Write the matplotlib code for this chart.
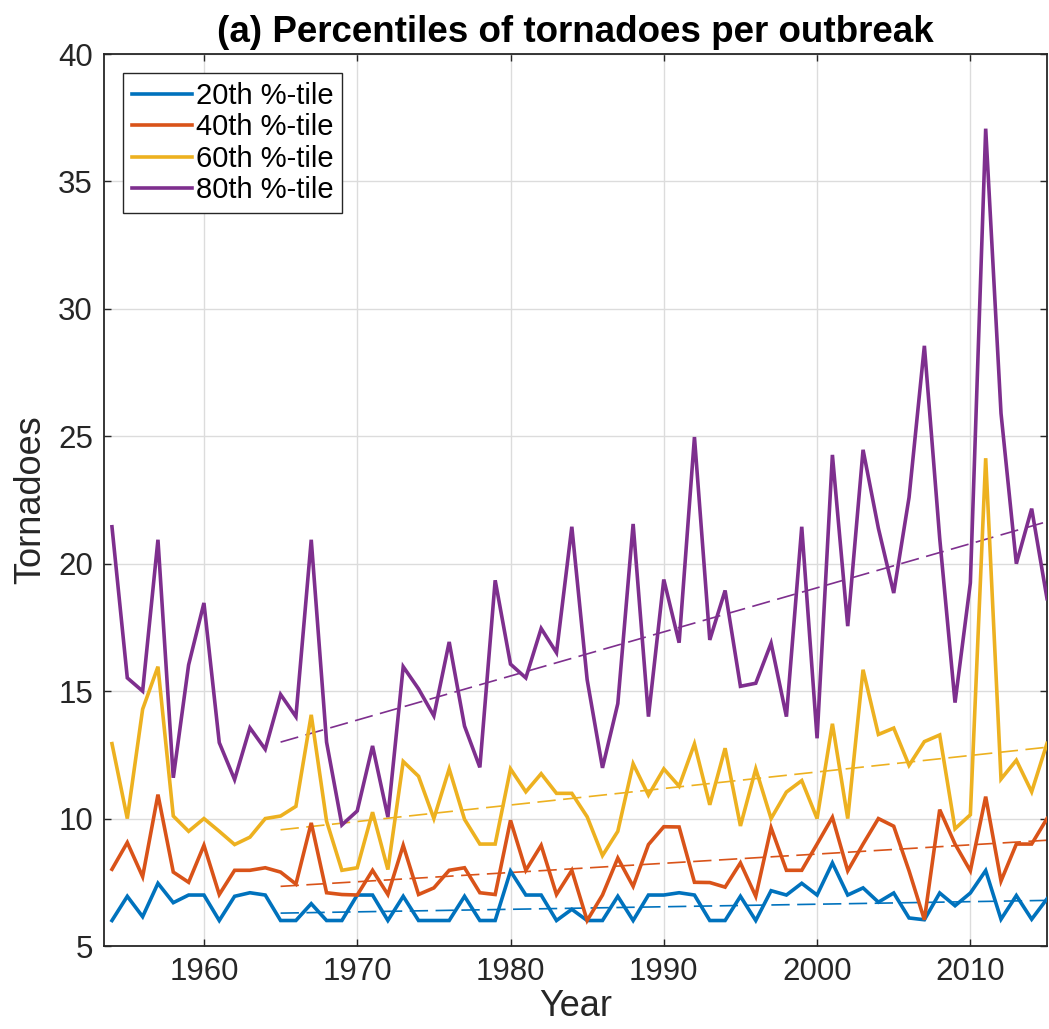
import numpy as np
import matplotlib
matplotlib.use("Agg")
import matplotlib.pyplot as plt

plt.rcParams['font.family'] = ['Liberation Sans', 'DejaVu Sans']

years = list(range(1954, 2016))

p20 = [6.0, 6.95, 6.15, 7.46, 6.7, 7.0,
       7.0, 6.0, 6.95, 7.09, 7.0, 6.0, 6.0, 6.66, 6.0, 6.0,
       7.0, 7.0, 6.0, 6.95, 6.0, 6.0, 6.0, 6.95, 6.0, 6.0,
       7.94, 7.0, 7.0, 6.0, 6.44, 6.0, 6.0, 6.95, 6.0, 7.0,
       7.0, 7.09, 7.0, 6.0, 6.0, 6.95, 6.0, 7.17, 7.0, 7.46,
       7.0, 8.26, 7.0, 7.28, 6.72, 7.08, 6.1, 6.03, 7.08, 6.58,
       7.08, 7.96, 6.05, 6.98, 6.05, 6.85]

p40 = [8.01, 9.06, 7.72, 10.94, 7.9, 7.5,
       8.95, 7.02, 7.97, 7.97, 8.07, 7.9, 7.43, 9.83, 7.09, 7.02,
       7.0, 7.97, 7.02, 8.95, 7.02, 7.28, 7.97, 8.07, 7.09, 7.02,
       9.93, 7.97, 8.95, 7.02, 7.97, 6.0, 7.0, 8.45, 7.34, 8.98,
       9.68, 9.67, 7.5, 7.49, 7.31, 8.26, 6.95, 9.64, 7.97, 7.97,
       9.0, 10.05, 7.95, 9.0, 10.0, 9.7, 7.95, 6.03, 10.35, 9.0,
       7.95, 10.86, 7.55, 9.0, 9.0, 10.0]

p60 = [12.94, 10.0, 14.29, 15.96, 10.1, 9.5,
       10.0, 9.5, 8.98, 9.27, 10.0, 10.1, 10.48, 14.07, 9.9, 7.97,
       8.07, 10.25, 8.0, 12.24, 11.66, 10.0, 11.95, 9.97, 9.0, 9.0,
       11.95, 11.05, 11.76, 10.99, 10.99, 10.07, 8.55, 9.5, 12.15, 10.92,
       11.95, 11.27, 12.93, 10.54, 12.76, 9.71, 11.95, 10.0, 11.04, 11.49,
       10.0, 13.72, 10.0, 15.84, 13.3, 13.55, 12.09, 13.02, 13.28, 9.6,
       10.15, 24.14, 11.55, 12.29, 11.05, 12.95]

p80 = [21.45, 15.52, 15.0, 20.94, 11.6, 16.03,
       18.46, 12.98, 11.53, 13.56, 12.72, 14.87, 14.0, 20.94, 13.0, 9.75,
       10.3, 12.85, 10.06, 15.96, 15.09, 14.03, 16.93, 13.63, 12.01, 19.35,
       16.06, 15.52, 17.46, 16.51, 21.45, 15.45, 11.99, 14.51, 21.56, 14.0,
       19.38, 16.9, 24.97, 17.01, 18.95, 15.19, 15.31, 16.88, 14.0, 21.45,
       13.15, 24.27, 17.55, 24.47, 21.39, 18.85, 22.6, 28.55, 21.0, 14.55,
       19.25, 37.07, 25.9, 20.0, 22.16, 18.63]

# dashed trend lines: values at start and end year
trend_years = [1965, 2015]
trend20 = [6.29, 6.79]
trend40 = [7.34, 9.15]
trend60 = [9.56, 12.80]
trend80 = [13.0, 21.65]

labels = ['20th %-tile', '40th %-tile', '60th %-tile', '80th %-tile']
colors = ['#0072BD', '#D95319', '#EDB120', '#7E2F8E']

xticks = [1960, 1970, 1980, 1990, 2000, 2010]
yticks = [5, 10, 15, 20, 25, 30, 35, 40]

fig = plt.figure(figsize=(10.49, 10.29), dpi=100)
ax = fig.add_axes([104/1049, 83/1029, 943/1049, 892/1029])

series = [p20, p40, p60, p80]
trends = [trend20, trend40, trend60, trend80]
for s, lab, c in zip(series, labels, colors):
    ax.plot(years, s, color=c, lw=2.6, label=lab, solid_joinstyle='miter', zorder=3)
for t, c in zip(trends, colors):
    ax.plot(trend_years, t, color=c, lw=1.2, ls=(0, (11, 4.5)), zorder=2)

ax.set_xlim(1953.48, 2015)
ax.set_ylim(5, 40)
ax.set_xticks(xticks)
ax.set_yticks(yticks)
ax.grid(True, color='#dcdcdc', lw=1.0, zorder=0)
ax.set_axisbelow(True)
ax.tick_params(direction='in', length=5, width=1.0, top=True, right=True,
               labelsize=22.5, colors='#262626', pad=8)
for sp in ax.spines.values():
    sp.set_color('#262626')
    sp.set_linewidth(1.3)

ax.set_xlabel('Year', fontsize=26, color='#262626', labelpad=1)
ax.set_ylabel('Tornadoes', fontsize=26, color='#262626', labelpad=7)
ax.set_title('(a) Percentiles of tornadoes per outbreak', fontsize=26.5,
             fontweight='bold', color='black', pad=9)

leg = ax.legend(loc='upper left', fontsize=21, frameon=True, fancybox=False,
                framealpha=1, edgecolor='#262626', handlelength=2.05,
                handletextpad=0.15, labelspacing=0.12, borderpad=0.3,
                borderaxespad=0.65)
leg.get_frame().set_linewidth(1.0)
for h in leg.get_lines():
    h.set_linewidth(2.6)

fig.savefig('out.png', dpi=100)
